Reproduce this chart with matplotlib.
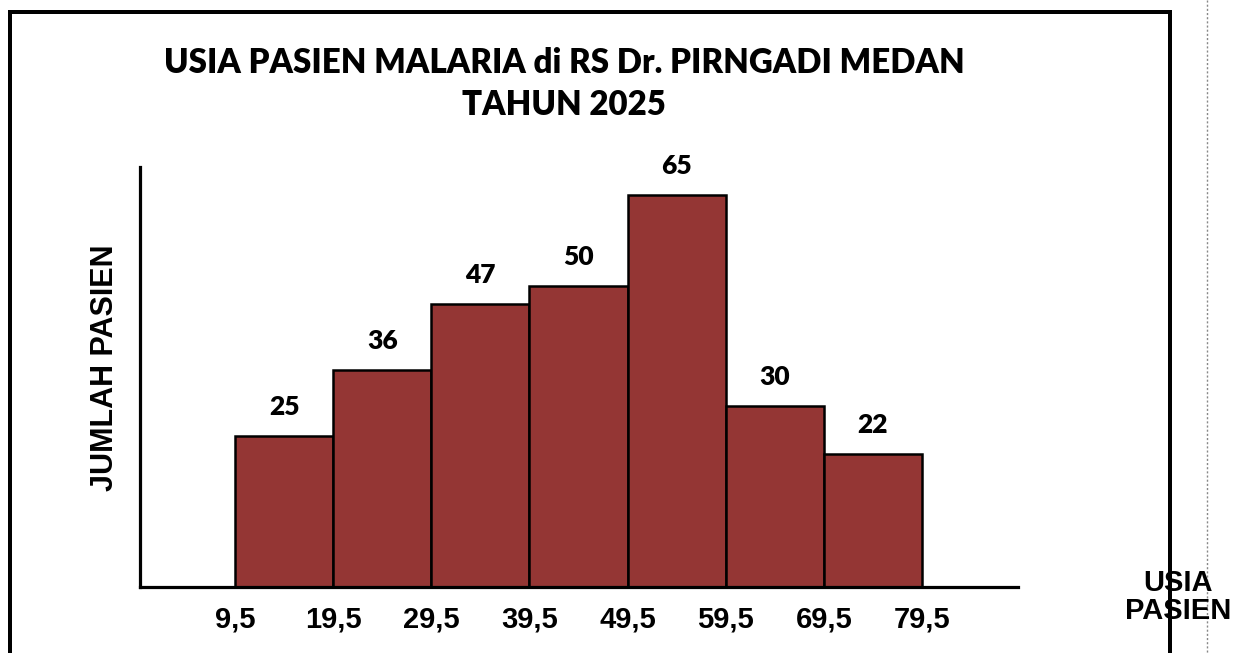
import matplotlib
matplotlib.use("Agg")
import matplotlib.pyplot as plt
from matplotlib.lines import Line2D

# data
bin_edges = [9.5, 19.5, 29.5, 39.5, 49.5, 59.5, 69.5, 79.5]
counts = [25, 36, 47, 50, 65, 30, 22]
tick_labels = ["9,5", "19,5", "29,5", "39,5", "49,5", "59,5", "69,5", "79,5"]
title = "USIA PASIEN MALARIA di RS Dr. PIRNGADI MEDAN\nTAHUN 2025"
ylabel = "JUMLAH PASIEN"
xlabel = "USIA\nPASIEN"

W, H = 1248, 653
fig = plt.figure(figsize=(W / 100, H / 100), dpi=100)
fig.patch.set_facecolor("white")

def fx(px):
    return px / W

def fy(py):
    return 1 - py / H

# outer frame
lw_frame = 4 / 1.389
for xs, ys in [([10, 10], [12, 660]), ([10, 1170], [12, 12]), ([1170, 1170], [12, 660])]:
    fig.add_artist(Line2D([fx(x) for x in xs], [fy(y) for y in ys], color="black",
                          lw=lw_frame, solid_capstyle="projecting"))
# dotted guide at right
fig.add_artist(Line2D([fx(1207), fx(1207)], [fy(0), fy(653)], color="#888888",
                      lw=1.0, ls=(0, (1.5, 1.5))))

left, right, bottom, top = 140, 1018, 587, 167
ax = fig.add_axes([fx(left), fy(bottom), fx(right - left), (bottom - top) / H])
ax.set_xlim(-0.2, 89.3)
ax.set_ylim(0, 69.7)

widths = [bin_edges[i + 1] - bin_edges[i] for i in range(len(counts))]
bars = ax.bar(bin_edges[:-1], counts, width=widths, align="edge",
              color="#943634", edgecolor="black", linewidth=1.8, zorder=2)

for b, c in zip(bars, counts):
    ax.annotate(str(c), (b.get_x() + b.get_width() / 2, c), xytext=(0, 29),
                textcoords="offset pixels", ha="center", va="center",
                fontsize=19, fontweight="heavy", family=["Lato", "DejaVu Sans"])

for s in ["top", "right"]:
    ax.spines[s].set_visible(False)
for s in ["left", "bottom"]:
    ax.spines[s].set_linewidth(3.2 / 1.389)
    ax.spines[s].set_zorder(3)

ax.set_yticks([])
ax.set_xticks(bin_edges)
ax.set_xticklabels(tick_labels, fontsize=21, fontweight="bold",
                   family=["Liberation Sans", "DejaVu Sans"])
ax.tick_params(axis="x", length=0, pad=13)

fig.text(fx(564), fy(84), title, ha="center", va="center", fontsize=23.8,
         fontweight="heavy", family=["Lato", "DejaVu Sans"], linespacing=1.4)
fig.text(fx(105), fy(368), ylabel, ha="center", va="center", rotation=90,
         fontsize=22, fontweight="bold", family=["Liberation Sans", "DejaVu Sans"])
fig.text(fx(1178), fy(597), xlabel, ha="center", va="center", fontsize=21,
         fontweight="bold", family=["Liberation Sans", "DejaVu Sans"], linespacing=1.0)

fig.savefig("out.png", dpi=100, facecolor="white")
